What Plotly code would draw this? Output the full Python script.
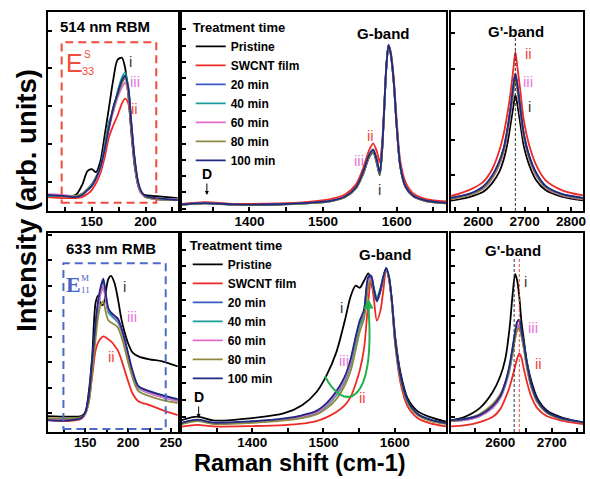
import plotly.graph_objects as go
from plotly.subplots import make_subplots

# ---------------- data ----------------
names = ["Pristine", "SWCNT film", "20 min", "40 min", "60 min", "80 min", "100 min"]
colors = ["#000000", "#ee2a24", "#3b5bc4", "#1b9c9a", "#e06ccc", "#8c8a40", "#1e2a82"]

# Panel A: 514 nm RBM
xA = [109, 125, 135, 141, 146, 150, 154, 158, 162, 166, 170, 174, 178, 181, 184, 187, 190, 193, 196, 200, 210, 230]
yA = [
    [7.5, 7.5, 8, 13, 20, 21, 19.5, 25, 38, 52, 66, 76, 77, 72, 58, 38, 22, 13, 9, 8, 7.5, 6.5],
    [7, 6.5, 6.5, 7, 8.5, 10.5, 14, 19, 27, 37, 43, 48, 54, 56.5, 54, 40, 25, 14, 9, 7, 6, 5.5],
    [8, 7.5, 7.5, 8.5, 11, 13, 17, 22, 31, 42, 52, 59, 65, 67.8, 61, 42, 25, 14, 9.5, 7, 6, 5.5],
    [7.5, 7.5, 7.5, 8.5, 11, 13.5, 17, 22, 33, 45, 50, 60, 67, 69.5, 62, 43, 25, 14, 9.5, 7, 6, 5.5],
    [8.5, 8, 7.5, 8, 10.5, 12.5, 16, 21, 30, 41, 50, 57, 62, 64.5, 59, 41, 24, 13.5, 9, 7, 6, 6],
    [8, 7.5, 7.5, 8.5, 11, 13, 17, 22, 32, 43, 51, 58, 64, 66.7, 60, 42, 24.5, 14, 9.5, 7, 6, 5.5],
    [8, 7.5, 7, 8, 10.5, 12.5, 16.5, 22, 31, 42, 52, 59, 65.5, 68, 62, 43, 26, 15, 10, 7.5, 6.5, 5.5],
]

# Panel B: 514 nm G-band
xB = [1308, 1340, 1380, 1440, 1480, 1510, 1530, 1545, 1555, 1562, 1568, 1573, 1577, 1580, 1583, 1586, 1589, 1592, 1596, 1600, 1605, 1612, 1622, 1640, 1667]
yB = [
    [3.2, 4.0, 3.2, 3.3, 4.0, 5.0, 7.0, 11.5, 19.0, 26.5, 29.5, 24.0, 18.0, 29.0, 50.0, 72.0, 83.4, 79.0, 65.0, 43.0, 22.0, 12.0, 7.5, 5.0, 4.0],
    [3.6, 4.4, 3.6, 3.8, 4.6, 6.0, 8.3, 13.5, 22.0, 30.0, 34.0, 30.0, 24.5, 33.0, 52.0, 73.0, 83.4, 80.0, 67.0, 46.0, 25.0, 14.5, 9.0, 6.0, 4.8],
    [3.2, 3.9, 3.2, 3.3, 4.0, 5.0, 7.2, 12.0, 20.0, 27.5, 30.7, 25.5, 19.0, 29.5, 50.5, 72.5, 83.4, 79.0, 65.0, 43.0, 22.5, 12.3, 7.7, 5.1, 4.0],
    [3.1, 3.8, 3.1, 3.2, 3.9, 4.9, 7.0, 11.8, 19.6, 27.0, 30.3, 25.0, 18.8, 29.3, 50.3, 72.3, 83.2, 78.8, 64.8, 42.8, 22.3, 12.2, 7.6, 5.0, 3.9],
    [3.2, 3.9, 3.2, 3.3, 4.0, 5.0, 7.1, 11.9, 19.8, 27.3, 30.5, 25.3, 19.0, 29.4, 50.4, 72.4, 83.3, 78.9, 64.9, 42.9, 22.4, 12.2, 7.6, 5.0, 4.0],
    [3.1, 3.8, 3.1, 3.2, 3.9, 4.9, 6.9, 11.6, 19.4, 26.8, 30.1, 24.8, 18.6, 29.1, 50.1, 72.1, 83.1, 78.7, 64.7, 42.7, 22.2, 12.1, 7.5, 4.9, 3.9],
    [3.3, 4.0, 3.3, 3.4, 4.1, 5.1, 7.3, 12.1, 20.2, 27.7, 30.9, 25.7, 19.2, 29.7, 50.7, 72.7, 83.4, 79.1, 65.2, 43.2, 22.6, 12.4, 7.8, 5.2, 4.1],
]

# Panel C: 514 nm G'-band
xC = [2541, 2580, 2610, 2630, 2645, 2655, 2663, 2670, 2676, 2680, 2684, 2690, 2698, 2710, 2725, 2745, 2780, 2826]
yC = [
    [5.2, 7.0, 9.5, 14.0, 19.5, 26.0, 34.0, 44.0, 53.0, 58.3, 54.0, 45.0, 33.0, 23.0, 15.5, 10.5, 7.2, 5.3],
    [7.5, 10.5, 14.5, 21.0, 30.0, 39.0, 49.0, 60.0, 72.0, 80.0, 73.0, 62.0, 46.0, 33.0, 23.0, 15.5, 10.5, 7.8],
    [6.5, 8.5, 12.0, 17.5, 24.5, 31.5, 41.0, 52.0, 63.0, 68.8, 64.0, 53.0, 39.0, 27.5, 19.0, 12.5, 8.5, 6.5],
    [6.2, 8.2, 11.6, 17.0, 24.0, 31.0, 40.5, 51.5, 62.5, 68.5, 63.5, 52.5, 38.5, 27.0, 18.6, 12.2, 8.3, 6.3],
    [5.8, 7.8, 11.0, 16.2, 23.0, 29.8, 38.8, 49.5, 60.0, 65.8, 61.0, 50.5, 37.0, 26.0, 17.8, 11.7, 7.9, 5.9],
    [6.0, 8.0, 11.3, 16.6, 23.4, 30.3, 39.5, 50.0, 60.5, 66.0, 61.5, 51.0, 37.5, 26.4, 18.1, 11.9, 8.1, 6.1],
    [6.6, 8.6, 12.2, 17.8, 24.8, 31.8, 41.5, 52.5, 63.5, 69.0, 64.2, 53.2, 39.2, 27.7, 19.2, 12.6, 8.6, 6.6],
]

# Panel D: 633 nm RBM
xD = [106, 130, 145, 150, 154, 158, 162, 165, 168, 171, 174, 177, 180, 184, 188, 192, 196, 200, 205, 212, 225, 240, 258]
yD = [
    [8, 7.7, 8, 10, 20, 38, 65, 68.5, 64, 64, 71, 77, 78.5, 75, 67, 57, 50, 44.5, 40, 38, 36.5, 35.5, 33],
    [6, 5.5, 6.5, 9, 15, 28, 41, 45, 47, 48, 47.5, 46.5, 45.5, 43.5, 41, 36.5, 31, 25.5, 19.5, 15.5, 13.5, 11, 8.5],
    [6, 6, 7, 10, 17, 35, 54, 65, 72, 76, 68, 61, 59.5, 58, 56.5, 52, 46, 39, 30, 22.5, 20, 18, 16],
    [6.5, 6.3, 7, 9.5, 16, 33, 52, 63, 70, 73, 66, 60, 58.5, 57, 55, 51, 45, 38, 29.5, 22, 19.5, 17.5, 15.5],
    [6.5, 6.3, 7, 9.5, 16, 33, 52, 63, 70, 73, 66, 61, 60, 58, 56, 51.5, 45.5, 38.5, 30, 22.5, 19.5, 17.5, 15.5],
    [7, 6.8, 7.5, 9.5, 15, 30, 47, 58, 64, 65.5, 60, 56, 55, 54, 52.5, 48, 42, 35, 27.5, 20.5, 18, 16, 14.5],
    [6, 5.8, 7, 10, 18, 36, 55, 66, 73, 77, 69, 62, 60, 58.5, 57, 52.5, 46.5, 39.5, 31, 23, 20.5, 18.5, 16.5],
]

# Panel E: 633 nm G-band
xE = [1301, 1323, 1345, 1400, 1445, 1470, 1490, 1505, 1518, 1530, 1538, 1545, 1551, 1557, 1563, 1567, 1571, 1575, 1580, 1584, 1588, 1592, 1596, 1601, 1608, 1618, 1632, 1650, 1672]
yE = [
    [6.0, 7.7, 5.8, 7.0, 9.5, 13.5, 20.0, 29.0, 40.0, 56.0, 68.0, 73.5, 72.5, 76.0, 79.7, 76.0, 69.0, 66.5, 71.0, 77.0, 82.3, 77.0, 66.0, 47.0, 30.0, 17.0, 10.5, 7.5, 5.2],
    [2.7, 3.6, 2.8, 3.0, 3.5, 4.2, 5.5, 7.5, 10.0, 13.5, 17.5, 24.0, 31.0, 42.0, 66.0, 77.5, 66.0, 56.0, 61.0, 71.0, 81.5, 77.0, 65.0, 43.0, 25.0, 13.0, 7.0, 4.3, 2.8],
    [4.4, 6.0, 4.5, 5.2, 6.5, 8.0, 10.0, 14.0, 19.5, 27.0, 35.0, 46.0, 55.0, 61.0, 77.0, 78.0, 71.0, 65.5, 71.0, 77.5, 82.3, 78.0, 66.0, 45.0, 28.0, 15.5, 9.0, 6.0, 4.3],
    [4.2, 5.8, 4.3, 5.0, 6.2, 7.6, 9.5, 13.2, 18.5, 25.5, 33.5, 44.5, 53.5, 59.0, 74.5, 77.0, 72.0, 67.5, 72.5, 78.0, 82.0, 77.5, 65.5, 44.5, 27.5, 15.0, 8.8, 5.8, 4.2],
    [4.3, 5.9, 4.4, 5.1, 6.4, 7.8, 9.8, 13.8, 19.2, 26.5, 35.0, 47.0, 55.5, 60.5, 76.0, 77.0, 71.0, 66.0, 71.0, 77.5, 82.0, 77.5, 65.5, 44.5, 27.5, 15.2, 8.8, 5.9, 4.3],
    [4.0, 5.5, 4.0, 4.6, 5.8, 7.0, 8.8, 12.0, 16.5, 23.5, 30.5, 41.0, 50.5, 57.0, 73.0, 76.5, 70.5, 66.0, 71.5, 77.5, 82.0, 77.5, 65.0, 44.0, 27.0, 14.8, 8.5, 5.6, 4.1],
    [4.6, 6.2, 4.7, 5.4, 6.8, 8.4, 10.6, 14.8, 20.5, 28.0, 36.5, 47.5, 56.0, 61.5, 78.0, 78.5, 71.5, 66.0, 71.5, 78.0, 82.3, 78.0, 66.5, 45.5, 28.5, 16.0, 9.2, 6.2, 4.5],
]

# Panel F: 633 nm G'-band
xF = [2504, 2530, 2560, 2585, 2600, 2610, 2618, 2624, 2629, 2633, 2637, 2641, 2646, 2652, 2660, 2672, 2690, 2715, 2761]
yF = [
    [5.8, 7.5, 12.0, 20.0, 28.0, 37.0, 52.0, 69.0, 79.5, 76.0, 68.0, 56.0, 46.0, 35.0, 26.0, 17.0, 11.0, 7.8, 4.5],
    [2.8, 3.3, 5.0, 7.5, 11.5, 17.0, 22.5, 28.0, 33.0, 37.0, 39.5, 37.5, 31.5, 25.0, 18.0, 12.0, 8.0, 6.0, 4.0],
    [6.0, 6.5, 8.5, 13.0, 18.0, 25.0, 33.0, 42.0, 50.0, 55.0, 56.0, 51.0, 44.0, 34.0, 24.0, 15.5, 10.0, 7.0, 4.8],
    [5.5, 6.0, 8.0, 12.0, 17.0, 23.5, 31.0, 40.0, 47.5, 52.0, 53.0, 49.0, 42.0, 32.5, 23.0, 15.0, 9.8, 7.0, 4.8],
    [5.5, 6.0, 8.0, 12.2, 17.2, 24.0, 31.5, 40.5, 48.5, 53.0, 54.0, 50.0, 43.0, 33.0, 23.5, 15.2, 9.9, 7.0, 4.8],
    [5.5, 6.5, 9.0, 14.0, 19.0, 25.0, 32.0, 40.0, 47.0, 51.0, 52.0, 48.5, 41.5, 32.0, 23.0, 15.0, 9.8, 7.0, 4.8],
    [6.0, 6.5, 8.5, 13.0, 18.0, 25.0, 33.5, 42.5, 50.5, 55.5, 56.5, 51.5, 44.5, 34.5, 24.5, 16.0, 10.3, 7.2, 5.0],
]

# ---------------- layout helpers ----------------
W, H = 590, 479
FONT = "Arial, Liberation Sans, sans-serif"


def fx(p):
    return p / W


def fy(p):
    return 1 - p / H


fig = make_subplots(rows=2, cols=3)

panels = [
    (1, 1, xA, yA, None),
    (1, 2, xB, yB, "legend"),
    (1, 3, xC, yC, None),
    (2, 1, xD, yD, None),
    (2, 2, xE, yE, "legend2"),
    (2, 3, xF, yF, None),
]
for r, c, xs, ys, leg in panels:
    for i, name in enumerate(names):
        kw = dict(legend=leg, showlegend=True) if leg else dict(showlegend=False)
        fig.add_trace(
            go.Scatter(x=xs, y=ys[i], mode="lines", name=name,
                       line=dict(color=colors[i], width=1.8, shape="spline", smoothing=0.8),
                       **kw),
            row=r, col=c)

col_px = {1: (48, 179), 2: (183, 449), 3: (454, 587)}
row_px = {1: (12, 211), 2: (233, 432)}
xranges = {1: [109, 230], 2: [1308, 1667], 3: [2541, 2826], 4: [106, 258], 5: [1301, 1672], 6: [2504, 2761]}
xticks = {
    1: ([125, 150, 175, 200, 225], ["", "150", "", "200", ""]),
    2: ([1350, 1400, 1450, 1500, 1550, 1600, 1650], ["", "1400", "", "1500", "", "1600", ""]),
    3: ([2550, 2600, 2650, 2700, 2750, 2800], ["", "2600", "", "2700", "", "2800"]),
    4: ([125, 150, 175, 200, 225, 250], ["", "150", "", "200", "", "250"]),
    5: ([1350, 1400, 1450, 1500, 1550, 1600, 1650], ["", "1400", "", "1500", "", "1600", ""]),
    6: ([2550, 2600, 2650, 2700, 2750], ["", "2600", "", "2700", ""]),
}
yticks = {1: (14.7, 19), 2: (1.1, 8.2), 3: (18, 17.8), 4: (9.4, 12.8), 5: (7.7, 8.4), 6: (7.7, 8.4)}

for k in range(1, 7):
    r = 1 if k <= 3 else 2
    c = (k - 1) % 3 + 1
    xa = "xaxis" if k == 1 else f"xaxis{k}"
    ya = "yaxis" if k == 1 else f"yaxis{k}"
    x0, x1 = col_px[c]
    y0, y1 = row_px[r]
    fig.layout[xa].update(
        domain=[fx(x0), fx(x1)], range=xranges[k], showgrid=False, zeroline=False,
        showline=True, mirror=True, linecolor="black", linewidth=2,
        ticks="inside", ticklen=4, tickwidth=1.5, tickcolor="black",
        tickmode="array", tickvals=xticks[k][0], ticktext=xticks[k][1],
        ticklabelstandoff=-3,
        tickfont=dict(family=FONT, size=13.5, color="black", weight="bold"))
    fig.layout[ya].update(
        domain=[fy(y1), fy(y0)], range=[0, 100], showgrid=False, zeroline=False,
        showline=True, mirror=True, linecolor="black", linewidth=2,
        ticks="inside", ticklen=4, tickwidth=1.5, tickcolor="black",
        tick0=yticks[k][0], dtick=yticks[k][1], showticklabels=False)

shapes = [
    dict(type="rect", xref="x", yref="y", x0=122, x1=210, y0=4.2, y1=84.8,
         line=dict(color="#f04a3c", width=2, dash="8px,5px")),
    dict(type="rect", xref="x4", yref="y4", x0=124.4, x1=243.9, y0=1.5, y1=84.8,
         line=dict(color="#4a6cc8", width=2, dash="8px,5px")),
    dict(type="line", xref="x3", yref="y3", x0=2680, x1=2680, y0=0, y1=87.6,
         line=dict(color="#333333", width=1, dash="3px,2px")),
    dict(type="line", xref="x6", yref="y6", x0=2627, x1=2627, y0=0, y1=88,
         line=dict(color="#333333", width=1, dash="3px,2px")),
    dict(type="line", xref="x6", yref="y6", x0=2637, x1=2637, y0=0, y1=88,
         line=dict(color="#f04a3c", width=1, dash="3px,2px")),
    dict(type="path", xref="x5", yref="y5", path="M 1502,28 C 1528,10 1574,12 1563,63",
         line=dict(color="#22b04a", width=2)),
]
fig.update_layout(shapes=shapes)

ann = []


def txt(x, y, t, size=14, color="black", bold=False, family=FONT, angle=0):
    ann.append(dict(x=fx(x), y=fy(y), xref="paper", yref="paper", text=t, showarrow=False,
                    textangle=angle, xanchor="center", yanchor="middle",
                    font=dict(family=family, size=size, color=color, weight="bold" if bold else "normal")))


RED, PINK, DARK, BLUE = "#f04a3c", "#e676da", "#333333", "#4a64c4"
SERIF = "Liberation Serif, Times New Roman, serif"
# Panel A
txt(106, 27, "514 nm RBM", 15, bold=True)
txt(75, 63, "E", 25, RED)
txt(88, 55, "S", 10, RED)
txt(89, 71, "33", 11, RED)
txt(131.7, 61.7, "i", 15, DARK)
txt(136, 81.7, "iii", 15, PINK)
txt(135, 108.3, "ii", 15, RED)
# Panel B
txt(386, 33, "G-band", 15, bold=True)
txt(373, 136, "ii", 15, RED)
txt(361.7, 160, "iii", 15, PINK)
txt(381.7, 190, "i", 15, DARK)
# Panel C
txt(520, 31.7, "G'-band", 15, bold=True)
txt(531.7, 53.3, "ii", 15, RED)
txt(531.7, 81.7, "iii", 15, PINK)
txt(533, 106.7, "i", 15, DARK)
# Panel D
txt(111.7, 248.3, "633 nm RMB", 15, bold=True)
txt(73.5, 284.5, "E", 22, BLUE, bold=True, family=SERIF)
txt(85.5, 278, "M", 9, BLUE, family=SERIF)
txt(86, 289.5, "11", 9, BLUE, family=SERIF)
txt(125, 286.7, "i", 15, DARK)
txt(133.3, 316.7, "iii", 15, PINK)
txt(112.7, 356.7, "ii", 15, RED)
# Panel E
txt(388.3, 254, "G-band", 15, bold=True)
txt(344, 307.3, "i", 15, DARK)
txt(346.7, 360, "iii", 15, PINK)
txt(365, 397.7, "ii", 15, RED)
# Panel F
txt(516.7, 250, "G'-band", 15, bold=True)
txt(529, 281, "i", 15, DARK)
txt(536.7, 327.3, "iii", 15, PINK)
txt(541.7, 363.3, "ii", 15, RED)
# axis titles
txt(26, 200, "Intensity (arb. units)", 27.5, bold=True, angle=-90)
txt(302, 463, "Raman shift (cm-1)", 23.5, bold=True)

# D-band arrows
for (x, y) in [(208.3, 195), (200, 418)]:
    ann.append(dict(x=fx(x), y=fy(y), xref="paper", yref="paper", text="D", showarrow=True,
                    ax=0, ay=-21, arrowhead=2, arrowsize=0.8, arrowwidth=1, arrowcolor="black",
                    font=dict(family=FONT, size=14, color="black", weight="bold")))
# green arrow head in panel E
ann.append(dict(x=1563, y=67, xref="x5", yref="y5", ax=1563.5, ay=59, axref="x5", ayref="y5",
                text="", showarrow=True, arrowhead=2, arrowsize=1, arrowwidth=2, arrowcolor="#22b04a"))

fig.update_layout(annotations=ann)

leg_common = dict(xanchor="left", yanchor="top", bgcolor="rgba(0,0,0,0)", borderwidth=0,
                  font=dict(family=FONT, size=12, color="black", weight="bold"),
                  title=dict(text="Treatment time", font=dict(family=FONT, size=13, color="black", weight="bold")),
                  tracegroupgap=0)
fig.update_layout(
    legend=dict(x=fx(192), y=fy(15), **leg_common),
    legend2=dict(x=fx(189), y=fy(233), **leg_common),
)

fig.update_layout(width=W, height=H, margin=dict(l=0, r=0, t=0, b=0),
                  paper_bgcolor="white", plot_bgcolor="white",
                  font=dict(family=FONT, color="black"))

fig.write_html("out.html", config={"displayModeBar": False},
               post_script="document.body.style.margin='0px';document.body.style.overflow='hidden';")
